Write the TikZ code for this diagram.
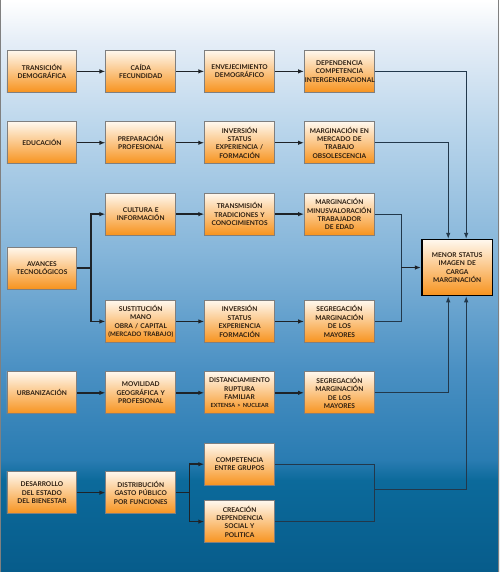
\documentclass[tikz,border=0pt]{standalone}
\usepackage{fontspec}
\setmainfont{Lato}
\usetikzlibrary{arrows.meta}

\definecolor{fondoA}{HTML}{FFFFFF}
\definecolor{fondoB}{HTML}{E6EEF7}
\definecolor{fondoC}{HTML}{B9D5EB}
\definecolor{fondoD}{HTML}{86B6DA}
\definecolor{fondoE}{HTML}{4A90C3}
\definecolor{fondoF}{HTML}{2A7CB2}
\definecolor{fondoG}{HTML}{0C6A9B}
\definecolor{fondoH}{HTML}{075C8B}
\definecolor{cajaarriba}{HTML}{FFF8EE}
\definecolor{cajamedio}{HTML}{FBC98A}
\definecolor{cajaabajo}{HTML}{F7931E}
\definecolor{cajaborde}{HTML}{7F7F7F}
\definecolor{cajatexto}{HTML}{2B1D10}
\definecolor{linea}{HTML}{22384B}
\definecolor{lineaosc}{HTML}{1E2328}

\pgfdeclareverticalshading{fondo}{100bp}{color(0bp)=(fondoH); color(25bp)=(fondoH);
  color(33bp)=(fondoG); color(34.8bp)=(fondoF); color(42.7bp)=(fondoE);
  color(53.1bp)=(fondoD); color(63.6bp)=(fondoC); color(71.5bp)=(fondoB);
  color(75bp)=(fondoA); color(100bp)=(fondoA)}

\begin{document}
\begin{tikzpicture}[x=1pt,y=-1pt]
  \tikzset{
    caja/.style={draw=cajaborde, line width=0.8pt, top color=cajaarriba,
      middle color=cajamedio, bottom color=cajaabajo, text width=69pt,
      minimum height=42pt, inner sep=0.5pt, align=center, text=cajatexto,
      font=\fontsize{6.6}{8.4}\selectfont\bfseries},
    final/.style={draw=black, line width=1.6pt, text width=70pt, minimum height=56pt},
    flecha/.style={draw=lineaosc, line width=1.4pt, -{Latex[length=6pt,width=4.5pt]}},
    tramo/.style={draw=lineaosc, line width=1.4pt},
    enlace/.style={draw=linea, line width=0.9pt},
    punta/.style={-{Latex[length=6pt,width=4.5pt]}}
  }

  \shade[shading=fondo] (0,0) rectangle (500,572);
  \draw[gray, line width=1pt] (0.5,0) -- (0.5,572) (499.5,0) -- (499.5,572);

  \node[caja] (transicion) at (42,71) {TRANSICIÓN\\DEMOGRÁFICA};
  \node[caja] (caida) at (141,71) {CAÍDA\\FECUNDIDAD};
  \node[caja] (envejecimiento) at (240,71) {ENVEJECIMIENTO\\DEMOGRÁFICO};
  \node[caja] (dependencia) at (340,71) {DEPENDENCIA\\COMPETENCIA\\INTERGENERACIONAL};

  \node[caja] (educacion) at (42,142.5) {EDUCACIÓN};
  \node[caja] (preparacion) at (141,142.5) {PREPARACIÓN\\PROFESIONAL};
  \node[caja] (inversionA) at (240,142.5) {INVERSIÓN\\STATUS\\EXPERIENCIA /\\FORMACIÓN};
  \node[caja] (marginacionA) at (340,142.5) {MARGINACIÓN EN\\MERCADO DE\\TRABAJO\\OBSOLESCENCIA};

  \node[caja] (cultura) at (141,214) {CULTURA E\\INFORMACIÓN};
  \node[caja] (transmision) at (240,214) {TRANSMISIÓN\\TRADICIONES Y\\CONOCIMIENTOS};
  \node[caja] (marginacionB) at (340,214) {MARGINACIÓN\\MINUSVALORACIÓN\\TRABAJADOR\\DE EDAD};
  \node[caja] (avances) at (42,268) {AVANCES\\TECNOLÓGICOS};
  \node[caja] (sustitucion) at (141,321.5) {SUSTITUCIÓN\\MANO\\OBRA / CAPITAL\\\mbox{\fontsize{6.2}{8.4}\selectfont (MERCADO TRABAJO)}};
  \node[caja] (inversionB) at (240,321.5) {INVERSIÓN\\STATUS\\EXPERIENCIA\\FORMACIÓN};
  \node[caja] (segregacionA) at (340,321.5) {SEGREGACIÓN\\MARGINACIÓN\\DE LOS\\MAYORES};

  \node[caja] (urbanizacion) at (42,393) {URBANIZACIÓN};
  \node[caja] (movilidad) at (141,393) {MOVILIDAD\\GEOGRÁFICA Y\\PROFESIONAL};
  \node[caja] (distanciamiento) at (240,393) {DISTANCIAMIENTO\\RUPTURA\\FAMILIAR\\{\fontsize{5.6}{7.4}\selectfont EXTENSA > NUCLEAR}};
  \node[caja] (segregacionB) at (340,393) {SEGREGACIÓN\\MARGINACIÓN\\DE LOS\\MAYORES};

  \node[caja] (desarrollo) at (42,493) {DESARROLLO\\DEL ESTADO\\DEL BIENESTAR};
  \node[caja] (distribucion) at (141,493) {DISTRIBUCIÓN\\GASTO PÚBLICO\\POR FUNCIONES};
  \node[caja] (competencia) at (240,464.5) {COMPETENCIA\\ENTRE GRUPOS};
  \node[caja] (creacion) at (240,522) {CREACIÓN\\DEPENDENCIA\\SOCIAL Y\\POLITICA};

  \node[caja, final] (menor) at (458,267.5) {MENOR STATUS\\IMAGEN DE\\CARGA\\MARGINACIÓN};

  \draw[flecha] (transicion) -- (caida);
  \draw[flecha] (caida) -- (envejecimiento);
  \draw[flecha] (envejecimiento) -- (dependencia);
  \draw[enlace, punta] (dependencia) -| ([xshift=9pt]menor.north);

  \draw[flecha] (educacion) -- (preparacion);
  \draw[flecha] (preparacion) -- (inversionA);
  \draw[flecha] (inversionA) -- (marginacionA);
  \draw[enlace, punta] (marginacionA) -| ([xshift=-9pt]menor.north);

  \coordinate (ramaA) at (91,268);
  \draw[tramo] (avances) -- (ramaA);
  \draw[flecha] (ramaA) |- (cultura);
  \draw[flecha] (ramaA) |- (sustitucion);
  \draw[flecha] (cultura) -- (transmision);
  \draw[flecha] (transmision) -- (marginacionB);
  \draw[flecha] (sustitucion) -- (inversionB);
  \draw[flecha] (inversionB) -- (segregacionA);
  \coordinate (unionA) at (402,267.5);
  \draw[enlace] (marginacionB) -| (unionA) |- (segregacionA);
  \draw[flecha] (unionA) -- (menor);

  \draw[flecha] (urbanizacion) -- (movilidad);
  \draw[flecha] (movilidad) -- (distanciamiento);
  \draw[flecha] (distanciamiento) -- (segregacionB);
  \draw[enlace, punta] (segregacionB) -| ([xshift=-9pt]menor.south);

  \draw[flecha] (desarrollo) -- (distribucion);
  \coordinate (ramaB) at (190,493);
  \draw[tramo] (distribucion) -- (ramaB);
  \draw[flecha] (ramaB) |- (competencia);
  \draw[flecha] (ramaB) |- (creacion);
  \coordinate (unionB) at (375,490);
  \draw[enlace] (competencia) -| (unionB) |- (creacion);
  \draw[enlace, punta] (unionB) -| ([xshift=9pt]menor.south);
\end{tikzpicture}
\end{document}
